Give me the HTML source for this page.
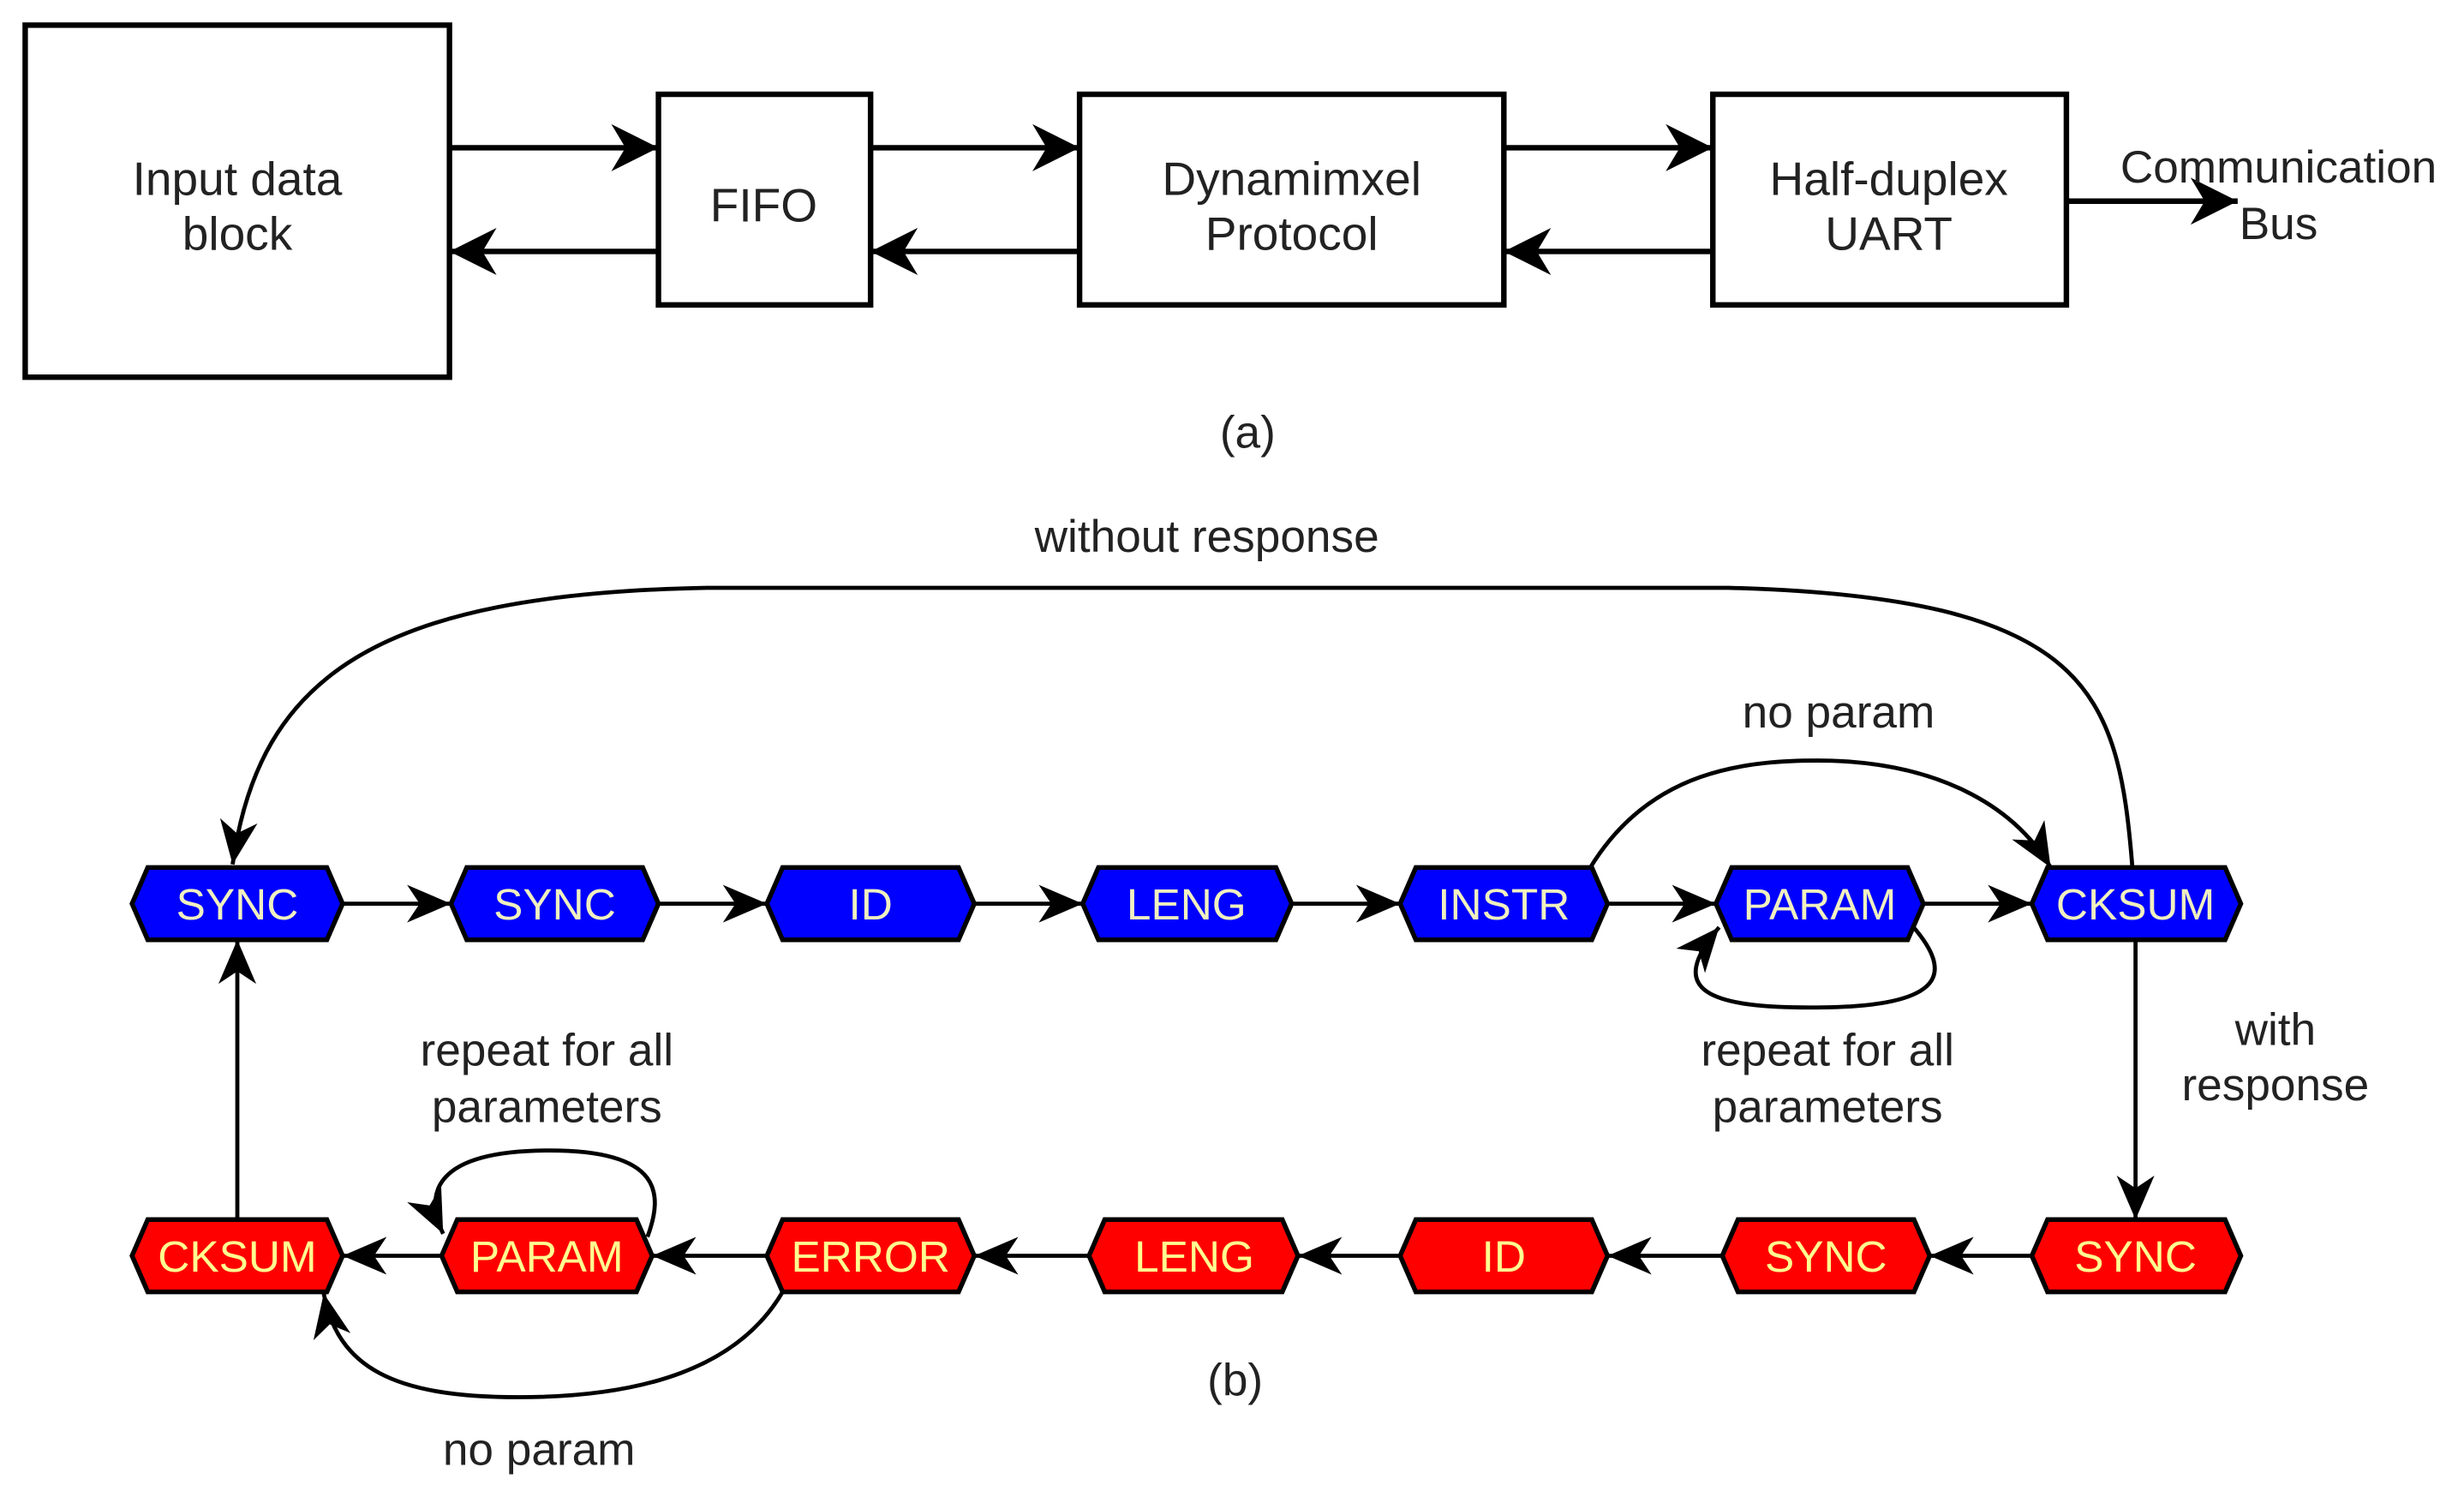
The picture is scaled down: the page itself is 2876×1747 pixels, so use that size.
<!DOCTYPE html>
<html><head><meta charset="utf-8"><style>
html,body{margin:0;padding:0;background:#fff;}
svg{display:block;}
text{font-family:"Liberation Sans",sans-serif;}
</style></head><body>
<svg width="2876" height="1747" viewBox="0 0 1568 952.5" xmlns="http://www.w3.org/2000/svg">
<defs>
<marker id="ab" markerUnits="userSpaceOnUse" markerWidth="32" markerHeight="32" refX="30" refY="16" orient="auto">
<path d="M0,1 L30,16 L0,31 L9,16 z" fill="#000"/></marker>
<marker id="ah" markerUnits="userSpaceOnUse" markerWidth="30" markerHeight="26" refX="28" refY="13" orient="auto">
<path d="M0,1 L28,13 L0,25 L8,13 z" fill="#000"/></marker>
</defs>
<g fill="#fff" stroke="#000" stroke-width="3.5">
<rect x="16" y="16" width="270" height="224"/>
<rect x="419" y="60" width="135" height="134"/>
<rect x="687" y="60" width="270" height="134"/>
<rect x="1090" y="60" width="225" height="134"/>
</g>
<g stroke="#000" stroke-width="3.5" fill="none">
<line x1="286" y1="94" x2="419" y2="94" marker-end="url(#ab)"/>
<line x1="419" y1="160" x2="286" y2="160" marker-end="url(#ab)"/>
<line x1="554" y1="94" x2="687" y2="94" marker-end="url(#ab)"/>
<line x1="687" y1="160" x2="554" y2="160" marker-end="url(#ab)"/>
<line x1="957" y1="94" x2="1090" y2="94" marker-end="url(#ab)"/>
<line x1="1090" y1="160" x2="957" y2="160" marker-end="url(#ab)"/>
<line x1="1315" y1="128" x2="1424" y2="128" marker-end="url(#ab)"/>
</g>
<g font-size="30" fill="#222" text-anchor="middle">
<text x="151" y="124">Input data</text><text x="151" y="159">block</text>
<text x="486" y="141">FIFO</text>
<text x="822" y="124">Dynamimxel</text><text x="822" y="159">Protocol</text>
<text x="1202" y="124">Half-duplex</text><text x="1202" y="159">UART</text>
</g>
<g font-size="29" fill="#222" text-anchor="middle">
<text x="1450" y="116">Communication</text><text x="1450" y="152">Bus</text>
<text x="794" y="285">(a)</text>
<text x="768" y="351">without response</text>
<text x="1170" y="463">no param</text>
<text x="1163" y="678">repeat for all</text><text x="1163" y="714">parameters</text>
<text x="1448" y="665">with</text><text x="1448" y="700">response</text>
<text x="348" y="678">repeat for all</text><text x="348" y="714">parameters</text>
<text x="786" y="888">(b)</text>
<text x="343" y="932">no param</text>
</g>
<g stroke="#000" stroke-width="2.6" fill="none">
<line x1="218" y1="575" x2="287" y2="575" marker-end="url(#ah)"/>
<line x1="419" y1="575" x2="488" y2="575" marker-end="url(#ah)"/>
<line x1="620" y1="575" x2="689" y2="575" marker-end="url(#ah)"/>
<line x1="822" y1="575" x2="891" y2="575" marker-end="url(#ah)"/>
<line x1="1023" y1="575" x2="1092" y2="575" marker-end="url(#ah)"/>
<line x1="1224" y1="575" x2="1293" y2="575" marker-end="url(#ah)"/>
<line x1="1293" y1="799" x2="1228" y2="799" marker-end="url(#ah)"/>
<line x1="1096" y1="799" x2="1023" y2="799" marker-end="url(#ah)"/>
<line x1="891" y1="799" x2="826" y2="799" marker-end="url(#ah)"/>
<line x1="693" y1="799" x2="620" y2="799" marker-end="url(#ah)"/>
<line x1="488" y1="799" x2="415" y2="799" marker-end="url(#ah)"/>
<line x1="281" y1="799" x2="218" y2="799" marker-end="url(#ah)"/>
<line x1="1359" y1="598" x2="1359" y2="776" marker-end="url(#ah)"/>
<line x1="151" y1="776" x2="151" y2="598" marker-end="url(#ah)"/>
<path d="M1357,552 C1348,440 1330,380 1100,374 L450,374 C240,378 165,430 148,550" marker-end="url(#ah)"/>
<path d="M1012,552 C1050,490 1110,483 1165,484 C1230,486 1280,510 1305,552" marker-end="url(#ah)"/>
<path d="M1216,588 C1240,615 1245,640 1160,641 C1085,642 1060,630 1094,590" marker-end="url(#ah)"/>
<path d="M412,787 C422,760 422,732 350,732 C275,732 270,760 282,785" marker-end="url(#ah)"/>
<path d="M498,822 C470,870 410,889 330,889 C250,889 215,870 206,823" marker-end="url(#ah)"/>
</g>
<g stroke="#000" stroke-width="3">
<g fill="#0000ff">
<polygon points="84,575 94,552 208,552 218,575 208,598 94,598"/>
<polygon points="287,575 297,552 409,552 419,575 409,598 297,598"/>
<polygon points="488,575 498,552 610,552 620,575 610,598 498,598"/>
<polygon points="689,575 699,552 812,552 822,575 812,598 699,598"/>
<polygon points="891,575 901,552 1013,552 1023,575 1013,598 901,598"/>
<polygon points="1092,575 1102,552 1214,552 1224,575 1214,598 1102,598"/>
<polygon points="1293,575 1303,552 1416,552 1426,575 1416,598 1303,598"/>
</g>
<g fill="#ff0000">
<polygon points="84,799 94,776 208,776 218,799 208,822 94,822"/>
<polygon points="281,799 291,776 405,776 415,799 405,822 291,822"/>
<polygon points="488,799 498,776 610,776 620,799 610,822 498,822"/>
<polygon points="693,799 703,776 816,776 826,799 816,822 703,822"/>
<polygon points="891,799 901,776 1013,776 1023,799 1013,822 901,822"/>
<polygon points="1096,799 1106,776 1218,776 1228,799 1218,822 1106,822"/>
<polygon points="1293,799 1303,776 1416,776 1426,799 1416,822 1303,822"/>
</g>
</g>
<g font-size="28" text-anchor="middle">
<g fill="#f0f0c0">
<text x="151" y="585">SYNC</text><text x="353" y="585">SYNC</text><text x="554" y="585">ID</text>
<text x="755" y="585">LENG</text><text x="957" y="585">INSTR</text><text x="1158" y="585">PARAM</text>
<text x="1359" y="585">CKSUM</text>
</g>
<g fill="#ffff90">
<text x="151" y="809">CKSUM</text><text x="348" y="809">PARAM</text><text x="554" y="809">ERROR</text>
<text x="760" y="809">LENG</text><text x="957" y="809">ID</text><text x="1162" y="809">SYNC</text>
<text x="1359" y="809">SYNC</text>
</g>
</g>
</svg>
</body></html>
